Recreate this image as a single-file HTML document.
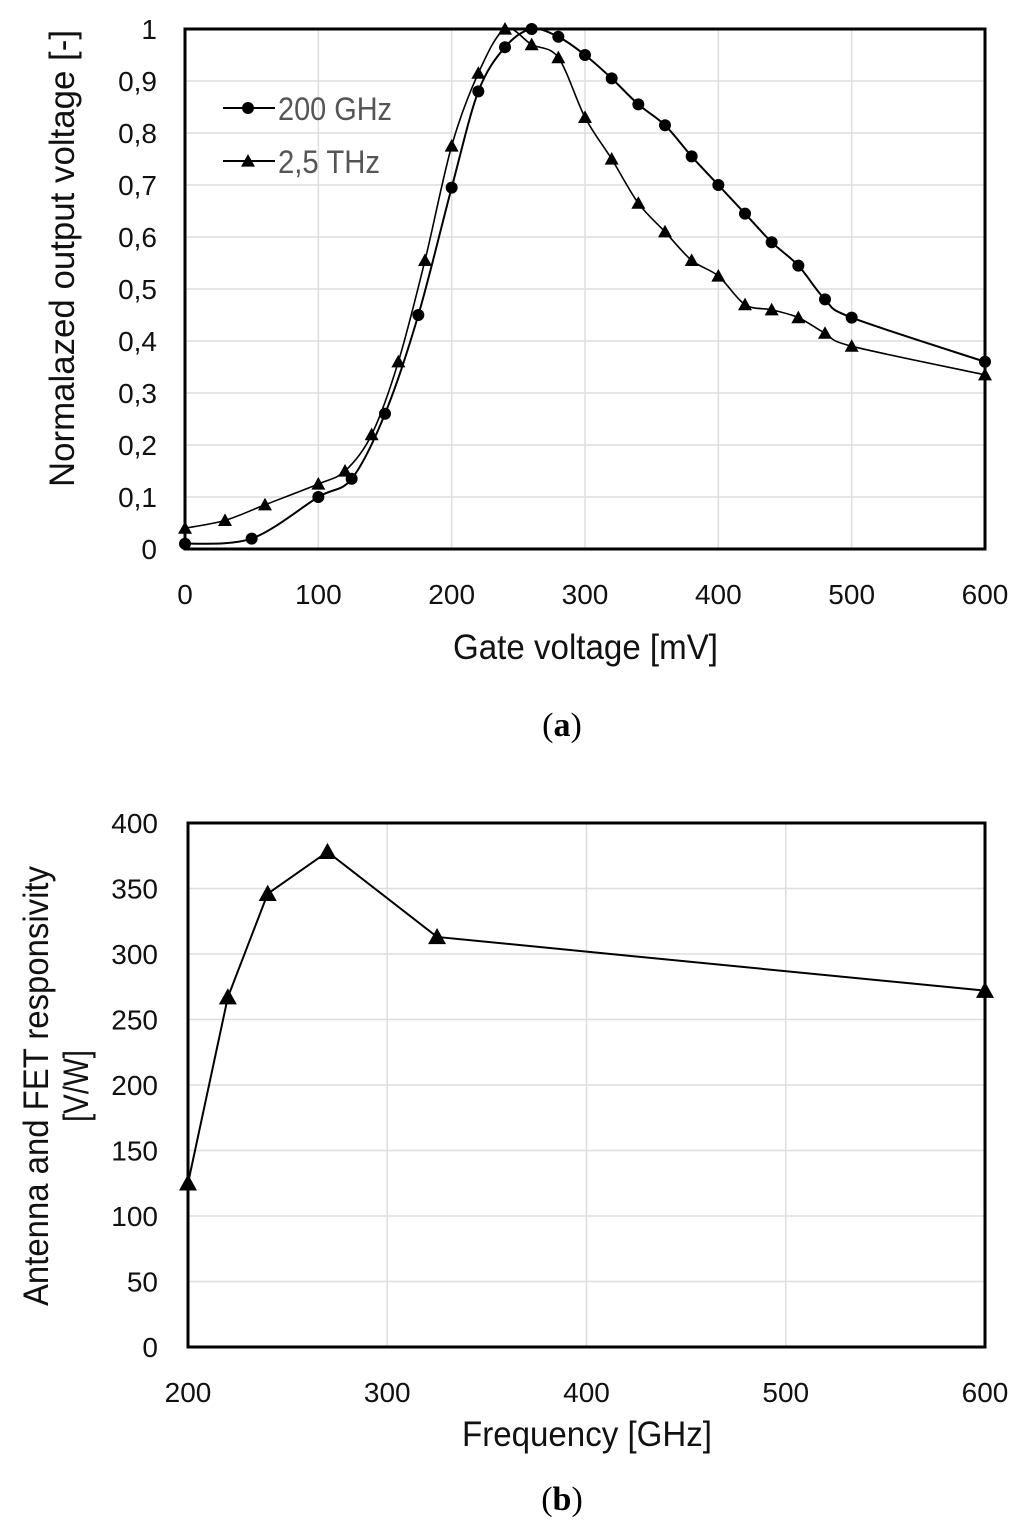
<!DOCTYPE html>
<html><head><meta charset="utf-8"><style>
body{margin:0;background:#fff;}
svg text{font-family:"Liberation Sans",sans-serif;}
svg text.cap{font-family:"Liberation Serif",serif;}
</style></head><body>
<svg id="fig" width="1024" height="1529" viewBox="0 0 1024 1529" xmlns="http://www.w3.org/2000/svg">
<g id="ga"></g>
<g id="gb"></g>
<text class="cap" x="562" y="736" text-anchor="middle" font-size="34">(<tspan font-weight="bold">a</tspan>)</text>
<text class="cap" x="562" y="1510" text-anchor="middle" font-size="34">(<tspan font-weight="bold">b</tspan>)</text>
</svg>
<script>
// Chart A data
const aXTicks=[0,100,200,300,400,500,600];
const aYTicks=[0,0.1,0.2,0.3,0.4,0.5,0.6,0.7,0.8,0.9,1];
const aYLabels=["0","0,1","0,2","0,3","0,4","0,5","0,6","0,7","0,8","0,9","1"];
const ghzX=[0,50,100,125,150,175,200,220,240,260,280,300,320,340,360,380,400,420,440,460,480,500,600];
const ghzY=[0.01,0.02,0.10,0.135,0.26,0.45,0.695,0.88,0.965,1.0,0.985,0.95,0.905,0.855,0.815,0.755,0.70,0.645,0.59,0.545,0.48,0.445,0.36];
const thzX=[0,30,60,100,120,140,160,180,200,220,240,260,280,300,320,340,360,380,400,420,440,460,480,500,600];
const thzY=[0.04,0.055,0.085,0.125,0.15,0.22,0.36,0.555,0.775,0.915,1.0,0.97,0.945,0.83,0.75,0.665,0.61,0.555,0.525,0.47,0.46,0.445,0.415,0.39,0.335];
// Chart B data
const bXTicks=[200,300,400,500,600];
const bYTicks=[0,50,100,150,200,250,300,350,400];
const freqX=[200,220,240,270,325,600];
const respY=[125,267,346,378,313,272];

const NS="http://www.w3.org/2000/svg";
function mk(p,t,a){const e=document.createElementNS(NS,t);for(const k in a)e.setAttribute(k,a[k]);p.appendChild(e);return e;}
function smooth(pts){let d=`M${pts[0][0]},${pts[0][1]}`;for(let i=0;i<pts.length-1;i++){const p0=pts[Math.max(0,i-1)],p1=pts[i],p2=pts[i+1],p3=pts[Math.min(pts.length-1,i+2)];const t=0.16;d+=` C${p1[0]+(p2[0]-p0[0])*t},${p1[1]+(p2[1]-p0[1])*t} ${p2[0]-(p3[0]-p1[0])*t},${p2[1]-(p3[1]-p1[1])*t} ${p2[0]},${p2[1]}`;}return d;}
function tri(g,x,y,s){return mk(g,'polygon',{points:`${x},${y-s} ${x-s},${y+s*0.8} ${x+s},${y+s*0.8}`,fill:'#000'});}

// Chart A
(function(){
const g=document.getElementById('ga');
const L=185,R=985,T=29,B=549;
const sx=v=>L+(v-0)/600*(R-L), sy=v=>B-v*(B-T);
aXTicks.forEach(v=>{const l=mk(g,'line',{x1:sx(v),x2:sx(v),y1:T,y2:B,stroke:'#dedede','stroke-width':1.5});

const t=mk(g,'text',{x:sx(v),y:B+55,'text-anchor':'middle','font-size':28,fill:'#111'});t.textContent=v;
});
aYTicks.forEach((v,i)=>{const l=mk(g,'line',{x1:L,x2:R,y1:sy(v),y2:sy(v),stroke:'#dedede','stroke-width':1.5});

const t=mk(g,'text',{x:L-28,y:sy(v)+10,'text-anchor':'end','font-size':28,fill:'#111'});t.textContent=aYLabels[i];
});
const p1=mk(g,'path',{d:smooth(ghzX.map((x,i)=>[sx(x),sy(ghzY[i])])),fill:'none',stroke:'#000','stroke-width':2});

const p2=mk(g,'path',{d:smooth(thzX.map((x,i)=>[sx(x),sy(thzY[i])])),fill:'none',stroke:'#000','stroke-width':1.6});

ghzX.forEach((x,i)=>{const c=mk(g,'circle',{cx:sx(x),cy:sy(ghzY[i]),r:6,fill:'#000'});
});
thzX.forEach((x,i)=>{const c=tri(g,sx(x),sy(thzY[i]),7);
});
const f=mk(g,'rect',{x:L,y:T,width:R-L,height:B-T,fill:'none',stroke:'#000','stroke-width':3});

const lg=mk(g,'g',{});
mk(lg,'line',{x1:223,x2:275,y1:108,y2:108,stroke:'#000','stroke-width':2});mk(lg,'circle',{cx:248,cy:108,r:6,fill:'#000'});
let t=mk(lg,'text',{x:278,y:120,'font-size':32,fill:'#555',textLength:114,lengthAdjust:'spacingAndGlyphs'});t.textContent='200 GHz';
mk(lg,'line',{x1:223,x2:275,y1:161,y2:161,stroke:'#000','stroke-width':2});tri(lg,248,161,7);
t=mk(lg,'text',{x:278,y:173,'font-size':32,fill:'#555',textLength:102,lengthAdjust:'spacingAndGlyphs'});t.textContent='2,5 THz';
t=mk(g,'text',{x:453,y:659,'font-size':35,fill:'#111',textLength:265,lengthAdjust:'spacingAndGlyphs'});t.textContent='Gate voltage [mV]';

t=mk(g,'text',{x:0,y:0,'font-size':35,fill:'#111',textLength:457,lengthAdjust:'spacingAndGlyphs',transform:`translate(74,487) rotate(-90)`});t.textContent='Normalazed output voltage [-]';

})();

// Chart B
(function(){
const g=document.getElementById('gb');
const L=188,R=985,T=823,B=1347;
const sx=v=>L+(v-200)/400*(R-L), sy=v=>B-v/400*(B-T);
bXTicks.forEach(v=>{const l=mk(g,'line',{x1:sx(v),x2:sx(v),y1:T,y2:B,stroke:'#dedede','stroke-width':1.5});

const t=mk(g,'text',{x:sx(v),y:B+55,'text-anchor':'middle','font-size':28,fill:'#111'});t.textContent=v;
});
bYTicks.forEach(v=>{const l=mk(g,'line',{x1:L,x2:R,y1:sy(v),y2:sy(v),stroke:'#dedede','stroke-width':1.5});

const t=mk(g,'text',{x:L-30,y:sy(v)+10,'text-anchor':'end','font-size':28,fill:'#111'});t.textContent=v;
});
const p=mk(g,'polyline',{points:freqX.map((x,i)=>`${sx(x)},${sy(respY[i])}`).join(' '),fill:'none',stroke:'#000','stroke-width':2});

freqX.forEach((x,i)=>{const c=tri(g,sx(x),sy(respY[i]),9);
});
const f=mk(g,'rect',{x:L,y:T,width:R-L,height:B-T,fill:'none',stroke:'#000','stroke-width':3});

let t=mk(g,'text',{x:462,y:1446,'font-size':35,fill:'#111',textLength:250,lengthAdjust:'spacingAndGlyphs'});t.textContent='Frequency [GHz]';

t=mk(g,'text',{x:0,y:0,'font-size':35,fill:'#111',textLength:440,lengthAdjust:'spacingAndGlyphs',transform:`translate(48,1306) rotate(-90)`});t.textContent='Antenna and FET responsivity';

t=mk(g,'text',{x:0,y:0,'font-size':35,fill:'#111',textLength:72,lengthAdjust:'spacingAndGlyphs',transform:`translate(88,1122) rotate(-90)`});t.textContent='[V/W]';

})();
</script>
</body></html>
